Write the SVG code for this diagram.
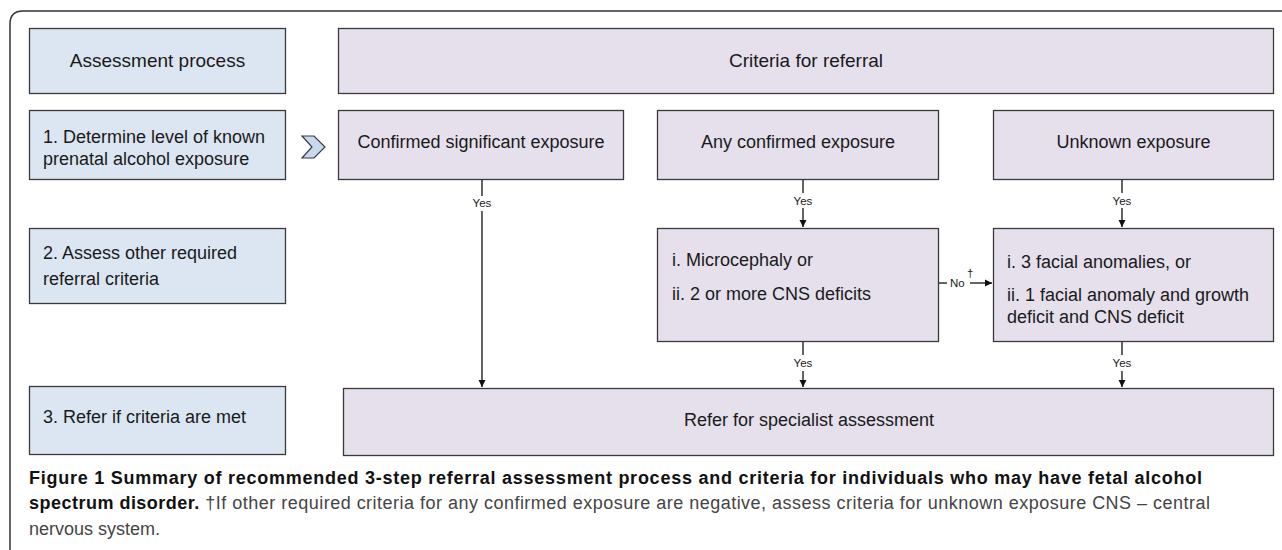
<svg xmlns="http://www.w3.org/2000/svg" width="1282" height="550" viewBox="0 0 1282 550">
<defs>
<style>
.step{fill:#dce6f2;stroke:#3a3a3a;stroke-width:1.3}
.crit{fill:#e5e0ec;stroke:#3a3a3a;stroke-width:1.3}
.t{font-family:"Liberation Sans",Arial,sans-serif;font-size:18px;fill:#1a1a1a}
.h{font-family:"Liberation Sans",Arial,sans-serif;font-size:19px;fill:#1a1a1a}
.lbl{font-family:"Liberation Sans",Arial,sans-serif;font-size:11.5px;fill:#1a1a1a}
.ln{stroke:#111;stroke-width:1.3;fill:none}
.cap{font-family:"Liberation Sans",Arial,sans-serif;font-size:18px;fill:#444}
.cb{font-weight:bold;fill:#111}
</style>
<marker id="arr" markerWidth="8" markerHeight="8" refX="7" refY="4" orient="auto" markerUnits="userSpaceOnUse">
<path d="M0,0.5 L7,4 L0,7.5 Z" fill="#111"/>
</marker>
</defs>
<rect width="1282" height="550" fill="#fff"/>
<path d="M10,550 L10,24 Q10,11 23,11 L1282,11" fill="none" stroke="#333" stroke-width="1.5"/>

<g id="hdr-assessment">
<rect class="step" x="29.5" y="28.5" width="256" height="65"/>
<text class="h" x="157.5" y="67" text-anchor="middle">Assessment process</text>
</g>
<g id="hdr-criteria">
<rect class="crit" x="338.5" y="28.5" width="935" height="65"/>
<text class="h" x="806" y="67" text-anchor="middle">Criteria for referral</text>
</g>
<g id="step1">
<rect class="step" x="29.5" y="110.5" width="256" height="69"/>
<text class="t" x="43" y="143">1. Determine level of known</text>
<text class="t" x="43" y="165">prenatal alcohol exposure</text>
</g>
<g id="chevron">
<polygon points="302,136 314,136 325,147 314,158 302,158 312,147" fill="#c6d9f1" stroke="#3a3a3a" stroke-width="1.2" stroke-linejoin="miter"/>
</g>
<g id="confirmed-significant">
<rect class="crit" x="338.5" y="110.5" width="285" height="69"/>
<text class="t" x="481" y="148" text-anchor="middle">Confirmed significant exposure</text>
</g>
<g id="any-confirmed">
<rect class="crit" x="657.5" y="110.5" width="281" height="69"/>
<text class="t" x="798" y="148" text-anchor="middle">Any confirmed exposure</text>
</g>
<g id="unknown">
<rect class="crit" x="993.5" y="110.5" width="280" height="69"/>
<text class="t" x="1133.5" y="148" text-anchor="middle">Unknown exposure</text>
</g>
<g id="step2">
<rect class="step" x="29.5" y="228.5" width="256" height="75"/>
<text class="t" x="43" y="259">2. Assess other required</text>
<text class="t" x="43" y="285">referral criteria</text>
</g>
<g id="microcephaly">
<rect class="crit" x="657.5" y="228.5" width="281" height="113"/>
<text class="t" x="672" y="266">i. Microcephaly or</text>
<text class="t" x="672" y="300">ii. 2 or more CNS deficits</text>
</g>
<g id="facial">
<rect class="crit" x="993.5" y="228.5" width="280" height="113"/>
<text class="t" x="1007" y="268">i. 3 facial anomalies, or</text>
<text class="t" x="1007" y="301">ii. 1 facial anomaly and growth</text>
<text class="t" x="1007" y="323">deficit and CNS deficit</text>
</g>
<g id="step3">
<rect class="step" x="29.5" y="386.5" width="256" height="68"/>
<text class="t" x="43" y="423">3. Refer if criteria are met</text>
</g>
<g id="refer">
<rect class="crit" x="343.5" y="388.5" width="930" height="67"/>
<text class="t" x="809" y="426" text-anchor="middle">Refer for specialist assessment</text>
</g>

<g id="connectors">
<line class="ln" x1="482" y1="180" x2="482" y2="196"/>
<text class="lbl" x="482" y="207" text-anchor="middle">Yes</text>
<line class="ln" x1="482" y1="211" x2="482" y2="387" marker-end="url(#arr)"/>

<line class="ln" x1="803" y1="180" x2="803" y2="193"/>
<text class="lbl" x="803" y="205" text-anchor="middle">Yes</text>
<line class="ln" x1="803" y1="208" x2="803" y2="227" marker-end="url(#arr)"/>

<line class="ln" x1="1122" y1="180" x2="1122" y2="193"/>
<text class="lbl" x="1122" y="205" text-anchor="middle">Yes</text>
<line class="ln" x1="1122" y1="208" x2="1122" y2="227" marker-end="url(#arr)"/>

<line class="ln" x1="803" y1="342" x2="803" y2="355"/>
<text class="lbl" x="803" y="367" text-anchor="middle">Yes</text>
<line class="ln" x1="803" y1="371" x2="803" y2="387" marker-end="url(#arr)"/>

<line class="ln" x1="1122" y1="342" x2="1122" y2="355"/>
<text class="lbl" x="1122" y="367" text-anchor="middle">Yes</text>
<line class="ln" x1="1122" y1="371" x2="1122" y2="387" marker-end="url(#arr)"/>

<line class="ln" x1="939" y1="283" x2="947" y2="283"/>
<text class="lbl" x="950" y="287" font-size="12">No</text>
<text class="lbl" x="967" y="277" font-size="9">†</text>
<line class="ln" x1="970" y1="283" x2="992" y2="283" marker-end="url(#arr)"/>
</g>

<g id="caption">
<text class="cap cb" x="29" y="484" textLength="1173" lengthAdjust="spacing">Figure 1 Summary of recommended 3-step referral assessment process and criteria for individuals who may have fetal alcohol</text>
<text class="cap" x="29" y="509" textLength="1181" lengthAdjust="spacing"><tspan class="cb">spectrum disorder.</tspan> †If other required criteria for any confirmed exposure are negative, assess criteria for unknown exposure CNS – central</text>
<text class="cap" x="29" y="535">nervous system.</text>
</g>
</svg>
